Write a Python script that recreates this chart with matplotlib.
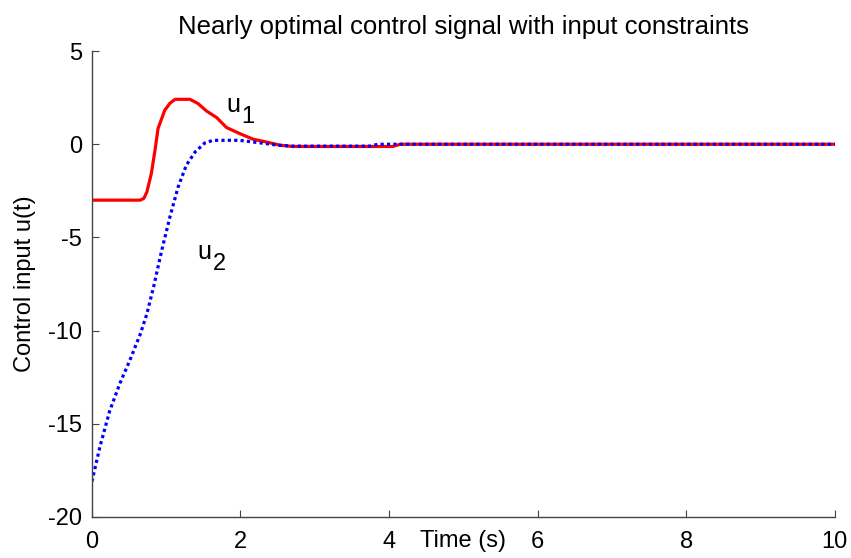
import matplotlib
matplotlib.use("Agg")
import matplotlib.pyplot as plt

plt.rcParams["font.family"] = ["Liberation Sans", "DejaVu Sans"]

# control input u1 (solid red)
t_u1 = [0, 0.65, 0.70, 0.74, 0.80, 0.85, 0.89, 0.98, 1.05, 1.12, 1.32, 1.43,
        1.54, 1.68, 1.81, 1.99, 2.17, 2.35, 2.53, 2.7, 4.05, 4.15, 10]
u1 = [-3, -3, -2.9, -2.56, -1.57, -0.3, 0.84, 1.82, 2.2, 2.41, 2.41, 2.18,
      1.79, 1.43, 0.9, 0.57, 0.27, 0.12, -0.05, -0.12, -0.12, 0, 0]

# control input u2 (dotted blue)
t_u2 = [0, 0.11, 0.24, 0.38, 0.51, 0.65, 0.74, 0.83, 0.94, 1.05, 1.16, 1.27,
        1.39, 1.52, 1.63, 1.99, 2.17, 2.35, 2.5, 2.7, 3.74, 3.85, 10]
u2 = [-18.1, -16.2, -14.3, -12.8, -11.6, -10.2, -9.1, -7.66, -5.69, -3.9, -2.3, -1.13,
      -0.41, 0.07, 0.21, 0.21, 0.12, 0.03, -0.05, -0.1, -0.1, 0, 0]

xticks = [0, 2, 4, 6, 8, 10]
yticks = [5, 0, -5, -10, -15, -20]

fig = plt.figure(figsize=(8.51, 5.58), dpi=100)
ax = fig.add_axes([0.108, 0.0735, 0.873, 0.835])

ax.plot(t_u1, u1, color="#ff0000", lw=2.3, solid_joinstyle="round")
ax.plot(t_u2, u2, color="#0000ff", lw=2.3, ls=(0, (1, 1)))

ax.set_xlim(0, 10)
ax.set_ylim(-20, 5)
ax.set_xticks(xticks)
ax.set_yticks(yticks)
ax.set_xticklabels([str(v) for v in xticks])
ax.set_yticklabels([str(v) for v in yticks])
ax.spines[["top", "right"]].set_visible(False)
for s in ["left", "bottom"]:
    ax.spines[s].set_color("#444444")
    ax.spines[s].set_linewidth(1.0)
ax.tick_params(direction="in", length=5, width=0.8, colors="#444444",
               labelcolor="black", labelsize=17)
ax.tick_params(axis="x", pad=10)
ax.tick_params(axis="y", pad=7)

ax.set_title("Nearly optimal control signal with input constraints",
             fontsize=18.5, pad=12)
ax.set_ylabel("Control input u(t)", fontsize=17, labelpad=9)
ax.text(0.5, -0.027, "Time (s)", transform=ax.transAxes, ha="center",
        va="top", fontsize=17)

# curve labels, subscript drawn as a lowered digit like the original
for name, sub, x, y in [("u", "1", 1.81, 1.72), ("u", "2", 1.42, -6.15)]:
    ax.text(x, y, name, fontsize=18, ha="left", va="baseline")
    ax.annotate(sub, xy=(x, y), xytext=(15, -11), textcoords="offset pixels",
                fontsize=17, ha="left", va="baseline")

fig.savefig("out.png", dpi=100)
